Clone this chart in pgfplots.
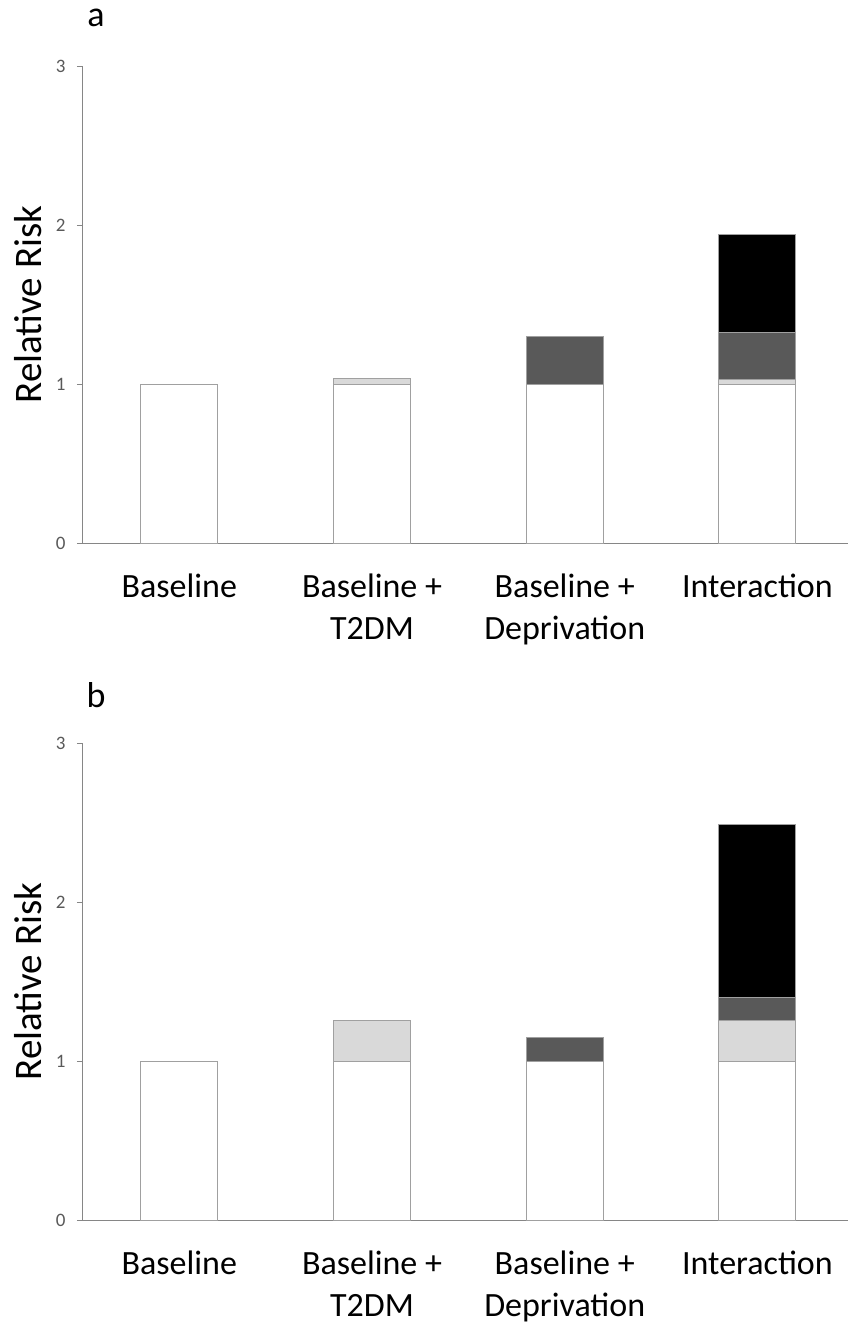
\documentclass[border=0pt]{standalone}
\usepackage{fontspec}
\setmainfont{Carlito}
\usepackage{pgfplots}
\pgfplotsset{compat=1.18}
\definecolor{axisgray}{HTML}{868686}
\definecolor{ticktext}{HTML}{595959}
\definecolor{edgegray}{HTML}{A0A0A0}
\definecolor{lightfill}{HTML}{D9D9D9}
\definecolor{darkfill}{HTML}{595959}
\pgfplotsset{
  rrstyle/.style={
    scale only axis,
    width=382.5pt, height=238.5pt,
    anchor=south west,
    xmin=-0.5, xmax=3.47,
    ymin=0, ymax=3,
    axis lines*=left,
    axis line style={-, draw=axisgray, line width=0.5pt},
    tick align=outside,
    ytick={0,1,2,3},
    major tick length=3pt,
    minor tick length=5.5pt,
    xtick={0,1,2,3},
    xticklabels={Baseline, {Baseline +\\T2DM}, {Baseline +\\Deprivation}, {Interaction\vphantom{l}}},
    minor xtick={-0.5,0.5,1.5,2.5},
    xtick style={draw=none},
    minor tick style={draw=axisgray, line width=0.5pt},
    ytick style={draw=axisgray, line width=0.5pt},
    /pgf/number format/assume math mode=true,
    yticklabel style={font=\fontsize{9.5}{11}\selectfont, text=ticktext, inner sep=0pt, anchor=east, xshift=-5.5pt},
    xticklabel style={font=\fontsize{17}{21}\selectfont, align=center, inner sep=0pt, anchor=north, yshift=-12pt},
    every axis y label/.style={at={(axis description cs:-0.0712,0.5)}, rotate=90, anchor=center, font=\fontsize{19.5}{22}\selectfont},
    ylabel={Relative Risk},
    ybar stacked,
    bar width=38.5pt,
    every axis plot/.append style={draw=edgegray, line width=0.5pt},
  }
}
\begin{document}
\begin{tikzpicture}
\useasboundingbox (0,0) rectangle (424pt,-661.5pt);
\node[font=\fontsize{18}{20}\selectfont] at (48pt,-9pt) {a};
\begin{axis}[rrstyle, at={(41.5pt,-271.5pt)}]
\addplot[fill=white] coordinates {(0,1) (1,1) (2,1) (3,1)};
\addplot[fill=lightfill] coordinates {(0,0) (1,0.033) (2,0) (3,0.031)};
\addplot[fill=darkfill] coordinates {(0,0) (1,0) (2,0.296) (3,0.294)};
\addplot[fill=black] coordinates {(0,0) (1,0) (2,0) (3,0.618)};
\end{axis}
\node[font=\fontsize{18}{20}\selectfont] at (48pt,-347.5pt) {b};
\begin{axis}[rrstyle, at={(41.5pt,-610pt)}]
\addplot[fill=white] coordinates {(0,1) (1,1) (2,1) (3,1)};
\addplot[fill=lightfill] coordinates {(0,0) (1,0.253) (2,0) (3,0.253)};
\addplot[fill=darkfill] coordinates {(0,0) (1,0) (2,0.149) (3,0.149)};
\addplot[fill=black] coordinates {(0,0) (1,0) (2,0) (3,1.087)};
\end{axis}
\end{tikzpicture}
\end{document}
